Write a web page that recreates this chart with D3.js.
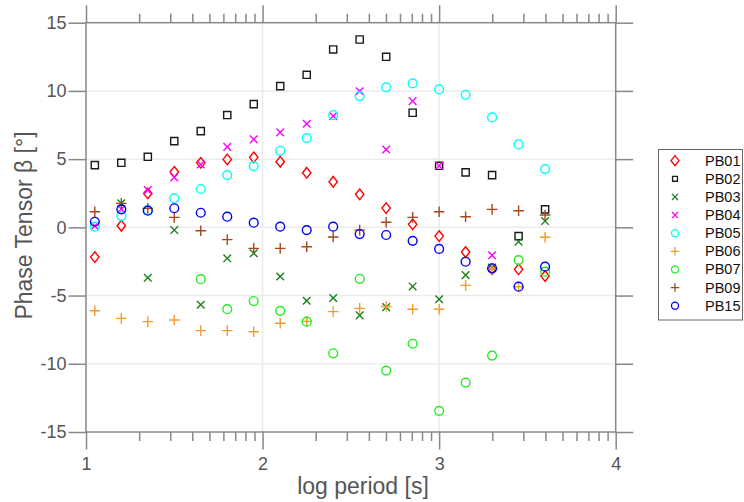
<!DOCTYPE html>
<html>
<head>
<meta charset="utf-8">
<script src="https://cdn.jsdelivr.net/npm/d3@7/dist/d3.min.js"></script>
<style>
  html, body { margin: 0; padding: 0; background: #fff; }
  svg { display: block; font-family: "Liberation Sans", Arial, Helvetica, sans-serif; }
</style>
</head>
<body>
<svg id="chart" width="744" height="502"></svg>
<script>
// log10 of the period, one column of phase tensor beta values per station
const logPeriod = [1.05, 1.2, 1.35, 1.5, 1.65, 1.8, 1.95, 2.1, 2.25, 2.4, 2.55, 2.7, 2.85, 3.0, 3.15, 3.3, 3.45, 3.6];

const PB01 = [-2.18, 0.12, 2.49, 4.07, 4.73, 4.98, 5.13, 4.81, 4.0, 3.34, 2.42, 1.41, 0.22, -0.64, -1.81, -3.05, -3.08, -3.57];
const PB02 = [4.56, 4.73, 5.17, 6.32, 7.05, 8.23, 9.03, 10.35, 11.18, 13.04, 13.77, 12.5, 8.4, 4.51, 4.03, 3.83, -0.64, 1.32];
const PB03 = [null, 1.76, -3.69, -0.2, -5.67, -2.27, -1.9, -3.6, -5.38, -5.18, -6.45, -5.85, -4.33, -5.27, -3.5, -2.95, -1.05, 0.46];
const PB04 = [0.1, 1.35, 2.73, 3.66, 4.61, 5.9, 6.45, 6.96, 7.59, 8.15, 9.98, 5.71, 9.25, 4.51, null, -2.05, null, null];
const PB05 = [0.05, 0.83, 1.27, 2.12, 2.81, 3.83, 4.49, 5.61, 6.54, 8.23, 9.62, 10.26, 10.55, 10.11, 9.71, 8.06, 6.08, 4.27];
const PB06 = [-6.11, -6.67, -6.91, -6.79, -7.57, -7.57, -7.65, -7.03, -6.89, -6.18, -5.94, -5.8, -6.0, -6.0, -4.25, -3.05, -4.35, -0.73];
const PB07 = [null, null, null, null, -3.8, -6.0, -5.4, -6.12, -6.91, -9.23, -3.77, -10.5, -8.53, -13.45, -11.38, -9.4, -2.4, -3.25];
const PB09 = [1.14, 1.76, 1.39, 0.73, -0.25, -0.9, -1.54, -1.54, -1.42, -0.71, -0.2, 0.37, 0.73, 1.14, 0.78, 1.32, 1.22, 0.9];
const PB15 = [0.41, 1.32, 1.22, 1.4, 1.07, 0.78, 0.34, 0.05, -0.2, 0.05, -0.49, -0.56, -0.99, -1.58, -2.52, -3.0, -4.35, -2.88];

const stationNames = ["PB01", "PB02", "PB03", "PB04", "PB05", "PB06", "PB07", "PB09", "PB15"];
const stationValues = [PB01, PB02, PB03, PB04, PB05, PB06, PB07, PB09, PB15];
const stationMarkers = ["diamond", "square", "cross", "cross", "circle", "plus", "circle", "plus", "circle"];
const stationColors = ["#ff0000", "#1a1a1a", "#1a801a", "#ff00ff", "#00ffff", "#f29b30", "#22ee22", "#a8461c", "#0000ff"];

const xTickValues = [1, 2, 3, 4];
const yTickValues = [-15, -10, -5, 0, 5, 10, 15];
const xTitle = "log period [s]";
const yTitle = "Phase Tensor β [°]";

const svg = d3.select("#chart");
const axisColor = "#888888";
const labelColor = "#555555";
const gridColor = "#ebebeb";

const x = d3.scaleLinear().domain([1, 4]).range([86, 615.7]);
const y = d3.scaleLinear().domain([-15, 15]).range([432, 22.7]);
const [x0, x1] = x.range();
const [yb, yt] = y.range();

// plain hyphen-minus for negative tick labels
const plainNumber = d => String(d);

// grid
const grid = svg.append("g");
grid.selectAll("line.gy").data(yTickValues.filter(v => v > -15 && v < 15)).join("line")
  .attr("x1", x0).attr("x2", x1).attr("y1", d => y(d)).attr("y2", d => y(d))
  .attr("stroke", gridColor).attr("stroke-width", 1.5);
grid.selectAll("line.gx").data(xTickValues.filter(v => v > 1 && v < 4)).join("line")
  .attr("x1", d => x(d)).attr("x2", d => x(d)).attr("y1", yt).attr("y2", yb)
  .attr("stroke", gridColor).attr("stroke-width", 1.5);

// axes: left and right ticks pointing outward, bottom and top with log-style minor ticks
const minorX = [];
for (let dec = 1; dec < 4; dec++) {
  for (let k = 2; k <= 9; k++) minorX.push(dec + Math.log10(k));
}

function styleAxis(g) {
  g.selectAll(".domain").remove();
  g.selectAll(".tick line").attr("stroke", axisColor).attr("stroke-width", 1.5);
  g.selectAll(".tick text").attr("fill", labelColor).attr("font-size", 18)
    .attr("font-family", "'Liberation Sans', Arial, sans-serif");
}

const tickLen = 17.5, minorLen = 9;

svg.append("g").attr("transform", `translate(${x0},0)`)
  .call(d3.axisLeft(y).tickValues(yTickValues).tickSize(tickLen).tickPadding(2).tickFormat(plainNumber))
  .call(styleAxis);
svg.append("g").attr("transform", `translate(${x1},0)`)
  .call(d3.axisRight(y).tickValues(yTickValues).tickSize(tickLen).tickFormat(""))
  .call(styleAxis);

const bottom = svg.append("g").attr("transform", `translate(0,${yb})`)
  .call(d3.axisBottom(x).tickValues(xTickValues).tickSize(tickLen).tickPadding(8).tickFormat(plainNumber))
  .call(styleAxis);
bottom.selectAll(".tick text").attr("dy", "0.71em");
svg.append("g").attr("transform", `translate(0,${yb})`)
  .call(d3.axisBottom(x).tickValues(minorX).tickSize(minorLen).tickFormat(""))
  .call(styleAxis);
svg.append("g").attr("transform", `translate(0,${yt})`)
  .call(d3.axisTop(x).tickValues(xTickValues).tickSize(tickLen).tickFormat(""))
  .call(styleAxis);
svg.append("g").attr("transform", `translate(0,${yt})`)
  .call(d3.axisTop(x).tickValues(minorX).tickSize(minorLen).tickFormat(""))
  .call(styleAxis);

// frame
svg.append("rect").attr("x", x0).attr("y", yt).attr("width", x1 - x0).attr("height", yb - yt)
  .attr("fill", "none").attr("stroke", axisColor).attr("stroke-width", 1.5);

// axis titles
svg.append("text").attr("x", 363).attr("y", 494).attr("text-anchor", "middle")
  .attr("font-size", 23).attr("fill", labelColor).text(xTitle);
svg.append("text").attr("transform", "translate(31.5,225.5) rotate(-90)").attr("text-anchor", "middle")
  .attr("font-size", 23).attr("fill", labelColor).text(yTitle);

// marker outlines centred on the origin
function markerPath(type, s) {
  switch (type) {
    case "diamond": return `M0,${-5.3 * s}L${4.2 * s},0L0,${5.3 * s}L${-4.2 * s},0Z`;
    case "square": return `M${-3.6 * s},${-3.6 * s}H${3.6 * s}V${3.6 * s}H${-3.6 * s}Z`;
    case "cross": return `M${-3.8 * s},${-3.8 * s}L${3.8 * s},${3.8 * s}M${3.8 * s},${-3.8 * s}L${-3.8 * s},${3.8 * s}`;
    case "plus": return `M${-5.3 * s},0H${5.3 * s}M0,${-5.3 * s}V${5.3 * s}`;
    case "circle": {
      const r = 4.4 * s;
      return `M${r},0A${r},${r} 0 1,1 ${-r},0A${r},${r} 0 1,1 ${r},0Z`;
    }
  }
}

const plot = svg.append("g");
stationNames.forEach((name, si) => {
  const pts = logPeriod.map((p, i) => ({ p, v: stationValues[si][i] })).filter(d => d.v !== null);
  plot.append("g").selectAll("path").data(pts).join("path")
    .attr("transform", d => `translate(${x(d.p)},${y(d.v)})`)
    .attr("d", markerPath(stationMarkers[si], 1))
    .attr("fill", "none")
    .attr("stroke", stationColors[si])
    .attr("stroke-width", 1.4);
});

// legend
const legend = svg.append("g");
legend.append("rect").attr("x", 658.5).attr("y", 149.5).attr("width", 84).attr("height", 170.5)
  .attr("fill", "#fff").attr("stroke", "#666").attr("stroke-width", 1);
const rowY = d3.scaleLinear().domain([0, 8]).range([160.7, 305.7]);
stationNames.forEach((name, si) => {
  const cy = rowY(si);
  const scale = stationMarkers[si] === "diamond" ? 0.95 : (stationMarkers[si] === "square" ? 0.68 : 0.8);
  legend.append("path").attr("transform", `translate(675,${cy})`)
    .attr("d", markerPath(stationMarkers[si], scale))
    .attr("fill", "none").attr("stroke", stationColors[si]).attr("stroke-width", 1.3);
  legend.append("text").attr("x", 705).attr("y", cy + 5).attr("font-size", 14.5)
    .attr("fill", "#111").text(name);
});
</script>
</body>
</html>
